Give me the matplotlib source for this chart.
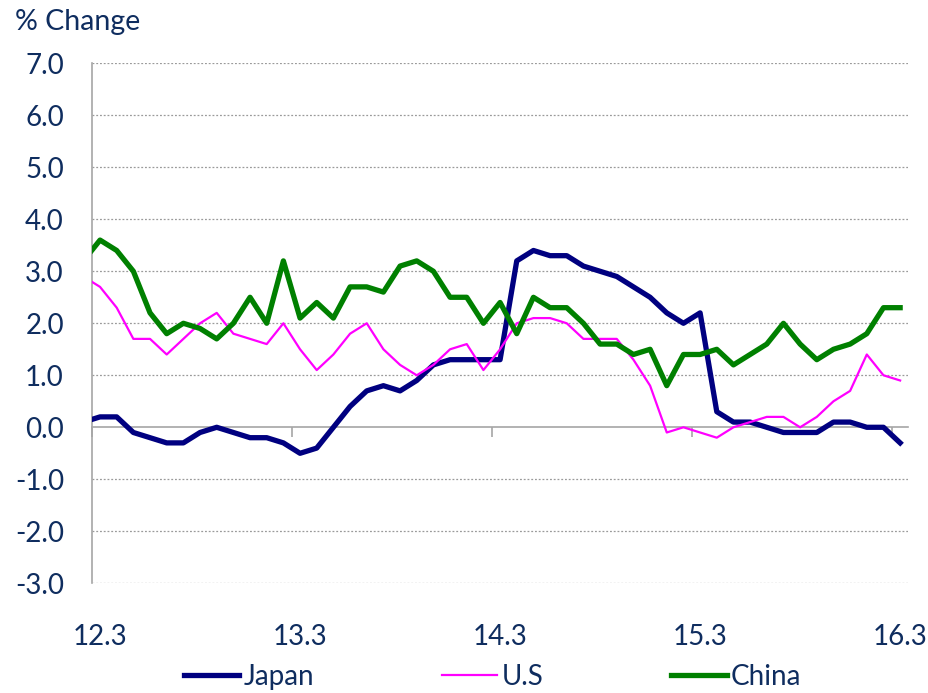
import numpy as np
import matplotlib
matplotlib.use("Agg")
import matplotlib.pyplot as plt

# Monthly % change; first value is 12.2 (only partly visible at the left edge)
months = [f"{y % 100}.{m}" for y in range(2012, 2017) for m in range(1, 13)]
months = months[months.index("12.2"):months.index("16.3") + 1]
japan = [0.1, 0.2, 0.2, -0.1, -0.2, -0.3, -0.3, -0.1, 0.0, -0.1, -0.2, -0.2, -0.3,
         -0.5, -0.4, 0.0, 0.4, 0.7, 0.8, 0.7, 0.9, 1.2, 1.3, 1.3, 1.3,
         1.3, 3.2, 3.4, 3.3, 3.3, 3.1, 3.0, 2.9, 2.7, 2.5, 2.2, 2.0,
         2.2, 0.3, 0.1, 0.1, 0.0, -0.1, -0.1, -0.1, 0.1, 0.1, 0.0, 0.0, -0.3]
us = [2.9, 2.7, 2.3, 1.7, 1.7, 1.4, 1.7, 2.0, 2.2, 1.8, 1.7, 1.6, 2.0,
      1.5, 1.1, 1.4, 1.8, 2.0, 1.5, 1.2, 1.0, 1.2, 1.5, 1.6, 1.1,
      1.5, 2.0, 2.1, 2.1, 2.0, 1.7, 1.7, 1.7, 1.3, 0.8, -0.1, 0.0,
      -0.1, -0.2, 0.0, 0.1, 0.2, 0.2, 0.0, 0.2, 0.5, 0.7, 1.4, 1.0, 0.9]
china = [3.2, 3.6, 3.4, 3.0, 2.2, 1.8, 2.0, 1.9, 1.7, 2.0, 2.5, 2.0, 3.2,
         2.1, 2.4, 2.1, 2.7, 2.7, 2.6, 3.1, 3.2, 3.0, 2.5, 2.5, 2.0,
         2.4, 1.8, 2.5, 2.3, 2.3, 2.0, 1.6, 1.6, 1.4, 1.5, 0.8, 1.4,
         1.4, 1.5, 1.2, 1.4, 1.6, 2.0, 1.6, 1.3, 1.5, 1.6, 1.8, 2.3, 2.3]
tick_labels = ["12.3", "13.3", "14.3", "15.3", "16.3"]
y_ticks = [7.0, 6.0, 5.0, 4.0, 3.0, 2.0, 1.0, 0.0, -1.0, -2.0, -3.0]

TEXT = "#0F2D5F"
plt.rcParams["font.family"] = ["Lato", "DejaVu Sans"]

x = np.arange(len(months))
tick_pos = [months.index(t) for t in tick_labels]

fig = plt.figure(figsize=(9.29, 6.93), dpi=100)
ax = fig.add_axes([0.0987, 0.1583, 0.8792, 0.7504])

ax.plot(x, japan, color="#000080", lw=3.8, solid_joinstyle="round", label="Japan", zorder=3)
ax.plot(x, us, color="#FF00FF", lw=1.6, solid_joinstyle="round", label="U.S", zorder=4)
ax.plot(x, china, color="#008000", lw=3.8, solid_joinstyle="round", label="China", zorder=5)

ax.set_xlim(0.5, len(x) - 0.5)
ax.set_ylim(-3, 7)
ax.set_yticks(y_ticks)
ax.set_yticklabels([f"{v:.1f}" for v in y_ticks])
ax.set_xticks(tick_pos)
ax.set_xticklabels(tick_labels)
ax.tick_params(axis="y", length=0, pad=20, labelsize=20, labelcolor=TEXT)
ax.tick_params(axis="x", length=0, pad=29, labelsize=20, labelcolor=TEXT)

for v in y_ticks:
    if v != 0:
        ax.axhline(v, color="#9A9A9A", lw=0.9, ls=(0, (1.5, 1.5)), zorder=1)

for s in ["top", "right", "bottom"]:
    ax.spines[s].set_visible(False)
ax.spines["left"].set_color("#A6A6A6")
ax.spines["left"].set_linewidth(1.2)

# horizontal axis line at 0 with tick marks between years
sec = ax.secondary_xaxis(0.3)
sec.set_xticks([p - 0.5 for p in tick_pos])
sec.set_xticklabels([])
sec.tick_params(axis="x", direction="out", length=7, width=1.2, color="#A6A6A6")
sec.spines["bottom"].set_color("#A6A6A6")
sec.spines["bottom"].set_linewidth(1.2)

fig.text(15 / 929, 1 - 22 / 693, "% Change", fontsize=20.5, color=TEXT, va="center", ha="left")

leg = fig.legend(loc="center", bbox_to_anchor=(0.53, 1 - 677 / 693), ncol=3, frameon=False,
                 fontsize=20, handlelength=2.0, handletextpad=0.15, columnspacing=4.6)
for t in leg.get_texts():
    t.set_color(TEXT)

fig.savefig("out.png", dpi=100)
